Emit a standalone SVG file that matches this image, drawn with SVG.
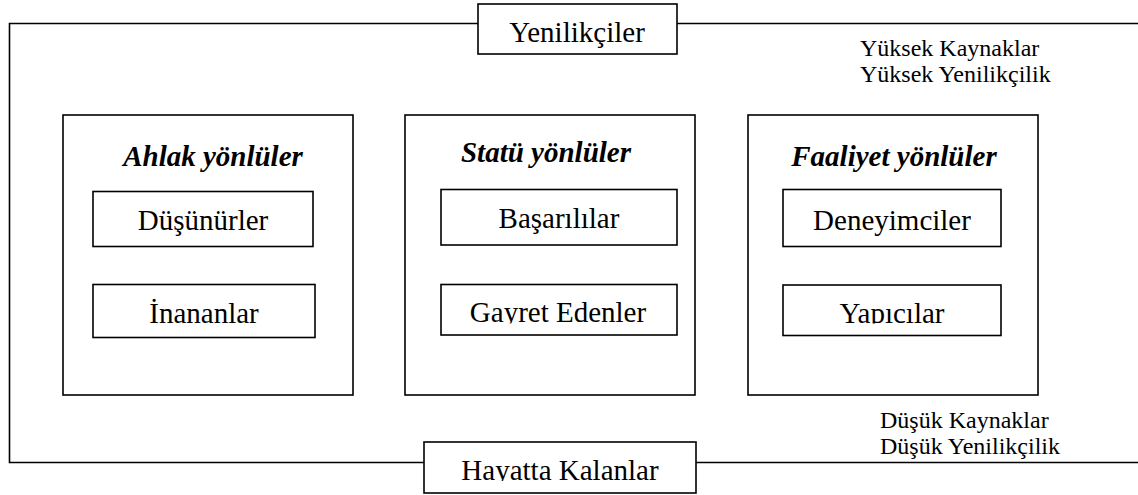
<svg xmlns="http://www.w3.org/2000/svg" width="1138" height="495" viewBox="0 0 1138 495">
<style>
.box{fill:#fff;stroke:#000;stroke-width:1.6}
.ln{fill:none;stroke:#000;stroke-width:1.6}
.t{font-family:"Liberation Serif","Times New Roman",serif;font-size:29px;fill:#000;text-anchor:middle}
.h{font-family:"Liberation Serif","Times New Roman",serif;font-size:29px;font-weight:bold;font-style:italic;fill:#000;text-anchor:middle}
.s{font-family:"Liberation Serif","Times New Roman",serif;font-size:24px;fill:#000}
</style>
<defs>
<clipPath id="cG"><rect x="441" y="284" width="236" height="39.5"/></clipPath>
<clipPath id="cY"><rect x="783" y="285" width="218" height="38.5"/></clipPath>
<clipPath id="cH"><rect x="424" y="442" width="272" height="39"/></clipPath>
</defs>
<g id="connectors">
<path class="ln" d="M1138,23.5 H9.5 V462.5 H1138"/>
</g>
<g id="yenilikciler">
<rect class="box" x="478" y="4" width="199" height="50"/>
<text class="t" x="577" y="42">Yenilikçiler</text>
</g>
<g id="hayatta">
<rect class="box" x="424" y="442" width="272" height="51"/>
<text class="t" x="560" y="480" clip-path="url(#cH)">Hayatta Kalanlar</text>
</g>
<g id="yuksek">
<text class="s" x="860" y="56">Yüksek Kaynaklar</text>
<text class="s" x="860" y="82">Yüksek Yenilikçilik</text>
</g>
<g id="dusuk">
<text class="s" x="880" y="428">Düşük Kaynaklar</text>
<text class="s" x="880" y="454">Düşük Yenilikçilik</text>
</g>
<g id="ahlak">
<rect class="box" x="63" y="115" width="290" height="280"/>
<text class="h" x="213" y="166">Ahlak yönlüler</text>
</g>
<g id="dusunurler">
<rect class="box" x="93" y="191.5" width="220" height="55"/>
<text class="t" x="203" y="230">Düşünürler</text>
</g>
<g id="inananlar">
<rect class="box" x="93" y="284.5" width="222" height="53"/>
<text class="t" x="204" y="322.5">İnananlar</text>
</g>
<g id="statu">
<rect class="box" x="405" y="115" width="290" height="280"/>
<text class="h" x="546" y="162">Statü yönlüler</text>
</g>
<g id="basarililar">
<rect class="box" x="441" y="189.5" width="236" height="55.5"/>
<text class="t" x="559" y="227.5">Başarılılar</text>
</g>
<g id="gayret">
<rect class="box" x="441" y="284.5" width="236" height="50.5"/>
<text class="t" x="558" y="322" clip-path="url(#cG)">Gayret Edenler</text>
</g>
<g id="faaliyet">
<rect class="box" x="748" y="115" width="290" height="280"/>
<text class="h" x="894" y="166">Faaliyet yönlüler</text>
</g>
<g id="deneyimciler">
<rect class="box" x="783" y="189.5" width="218" height="57"/>
<text class="t" x="892" y="229.5">Deneyimciler</text>
</g>
<g id="yapicilar">
<rect class="box" x="783" y="285" width="218" height="50.5"/>
<text class="t" x="892" y="322.5" clip-path="url(#cY)">Yapıcılar</text>
</g>
</svg>
